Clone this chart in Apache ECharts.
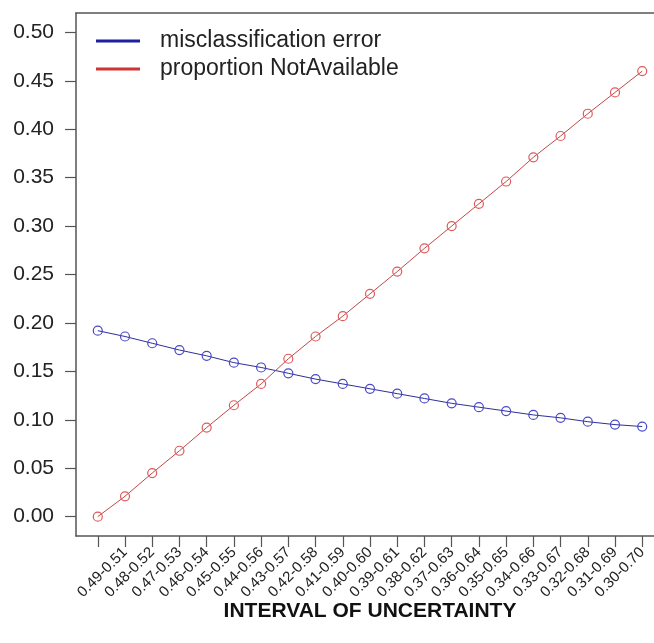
<!DOCTYPE html>
<html>
<head>
<meta charset="utf-8">
<script src="https://cdn.jsdelivr.net/npm/echarts@6/dist/echarts.min.js"></script>
<style>
  html, body { margin: 0; padding: 0; background: #ffffff; }
  #chart { width: 654px; height: 643px; }
</style>
</head>
<body>
<div id="chart"></div>
<script>
// 21 points (index 0..20); tick labels sit on ticks 1..20
const xIndex = [0,1,2,3,4,5,6,7,8,9,10,11,12,13,14,15,16,17,18,19,20];
const tickLabels = ["0.49-0.51","0.48-0.52","0.47-0.53","0.46-0.54","0.45-0.55","0.44-0.56","0.43-0.57","0.42-0.58","0.41-0.59","0.40-0.60","0.39-0.61","0.38-0.62","0.37-0.63","0.36-0.64","0.35-0.65","0.34-0.66","0.33-0.67","0.32-0.68","0.31-0.69","0.30-0.70"];
const misclassificationError = [0.192,0.186,0.179,0.172,0.166,0.159,0.154,0.148,0.142,0.137,0.132,0.127,0.122,0.117,0.113,0.109,0.105,0.102,0.098,0.095,0.093];
const proportionNotAvailable = [0.000,0.021,0.045,0.068,0.092,0.115,0.137,0.163,0.186,0.207,0.230,0.253,0.277,0.300,0.323,0.346,0.371,0.393,0.416,0.438,0.460];
const yTicks = [0.00,0.05,0.10,0.15,0.20,0.25,0.30,0.35,0.40,0.45,0.50];

const seriesNames = ["misclassification error", "proportion NotAvailable"];
const FONT = "'Liberation Sans', Arial, Helvetica, sans-serif";
const FRAME = { color: '#555555', width: 1.5 };

const chart = echarts.init(document.getElementById('chart'), null, { renderer: 'canvas' });
chart.setOption({
  animation: false,
  backgroundColor: '#ffffff',
  grid: {
    left: 76, top: 13, width: 588, height: 523,
    containLabel: false,
    outerBoundsMode: 'none',
    show: false
  },
  legend: {
    orient: 'vertical',
    left: 96, top: 27,
    padding: 0,
    icon: 'rect',
    itemWidth: 44, itemHeight: 3,
    itemGap: 0,
    textStyle: { fontFamily: FONT, fontSize: 23, color: '#222222', lineHeight: 28, padding: [0, 0, 0, 15] },
    data: [
      { name: seriesNames[0], itemStyle: { color: '#1e1ea0', borderWidth: 0 } },
      { name: seriesNames[1], itemStyle: { color: '#d03535', borderWidth: 0 } }
    ]
  },
  xAxis: [
    {
      type: 'value',
      position: 'bottom',
      min: -0.8, max: 20.8,
      splitLine: { show: false },
      axisLine: { show: true, onZero: false, lineStyle: FRAME },
      axisTick: { show: true, inside: false, length: 11, customValues: xIndex, lineStyle: { color: '#555555', width: 1.2 } },
      axisLabel: {
        customValues: xIndex.slice(1),
        rotate: 45,
        margin: 14,
        fontFamily: FONT, fontSize: 15, color: '#222222',
        formatter: function (v) { return tickLabels[Math.round(v) - 1] || ''; }
      },
      name: 'INTERVAL OF UNCERTAINTY',
      nameLocation: 'middle',
      nameGap: 65,
      nameMoveOverlap: false,
      nameTextStyle: { fontFamily: FONT, fontSize: 21, fontWeight: 'bold', color: '#111111' }
    },
    {
      type: 'value',
      position: 'top',
      min: -0.8, max: 20.8,
      splitLine: { show: false },
      axisLine: { show: true, onZero: false, lineStyle: FRAME },
      axisTick: { show: false },
      axisLabel: { show: false }
    }
  ],
  yAxis: {
    type: 'value',
    min: -0.02, max: 0.52,
    splitLine: { show: false },
    axisLine: { show: true, onZero: false, lineStyle: FRAME },
    axisTick: { show: true, inside: false, length: 11, customValues: yTicks, lineStyle: { color: '#555555', width: 1.2 } },
    axisLabel: {
      customValues: yTicks,
      margin: 22,
      fontFamily: FONT, fontSize: 21, color: '#222222',
      formatter: function (v) { return v.toFixed(2); }
    }
  },
  series: [
    {
      name: seriesNames[0],
      type: 'line',
      xAxisIndex: 0,
      data: xIndex.map((x, i) => [x, misclassificationError[i]]),
      symbol: 'circle', symbolSize: 9,
      itemStyle: { color: 'rgba(0,0,0,0)', borderColor: '#4848c8', borderWidth: 1.2 },
      lineStyle: { color: '#2e2e9a', width: 1 },
      emphasis: { disabled: true }
    },
    {
      name: seriesNames[1],
      type: 'line',
      xAxisIndex: 0,
      data: xIndex.map((x, i) => [x, proportionNotAvailable[i]]),
      symbol: 'circle', symbolSize: 9,
      itemStyle: { color: 'rgba(0,0,0,0)', borderColor: '#e05a5a', borderWidth: 1.2 },
      lineStyle: { color: '#c04848', width: 1 },
      emphasis: { disabled: true }
    }
  ]
});
</script>
</body>
</html>
